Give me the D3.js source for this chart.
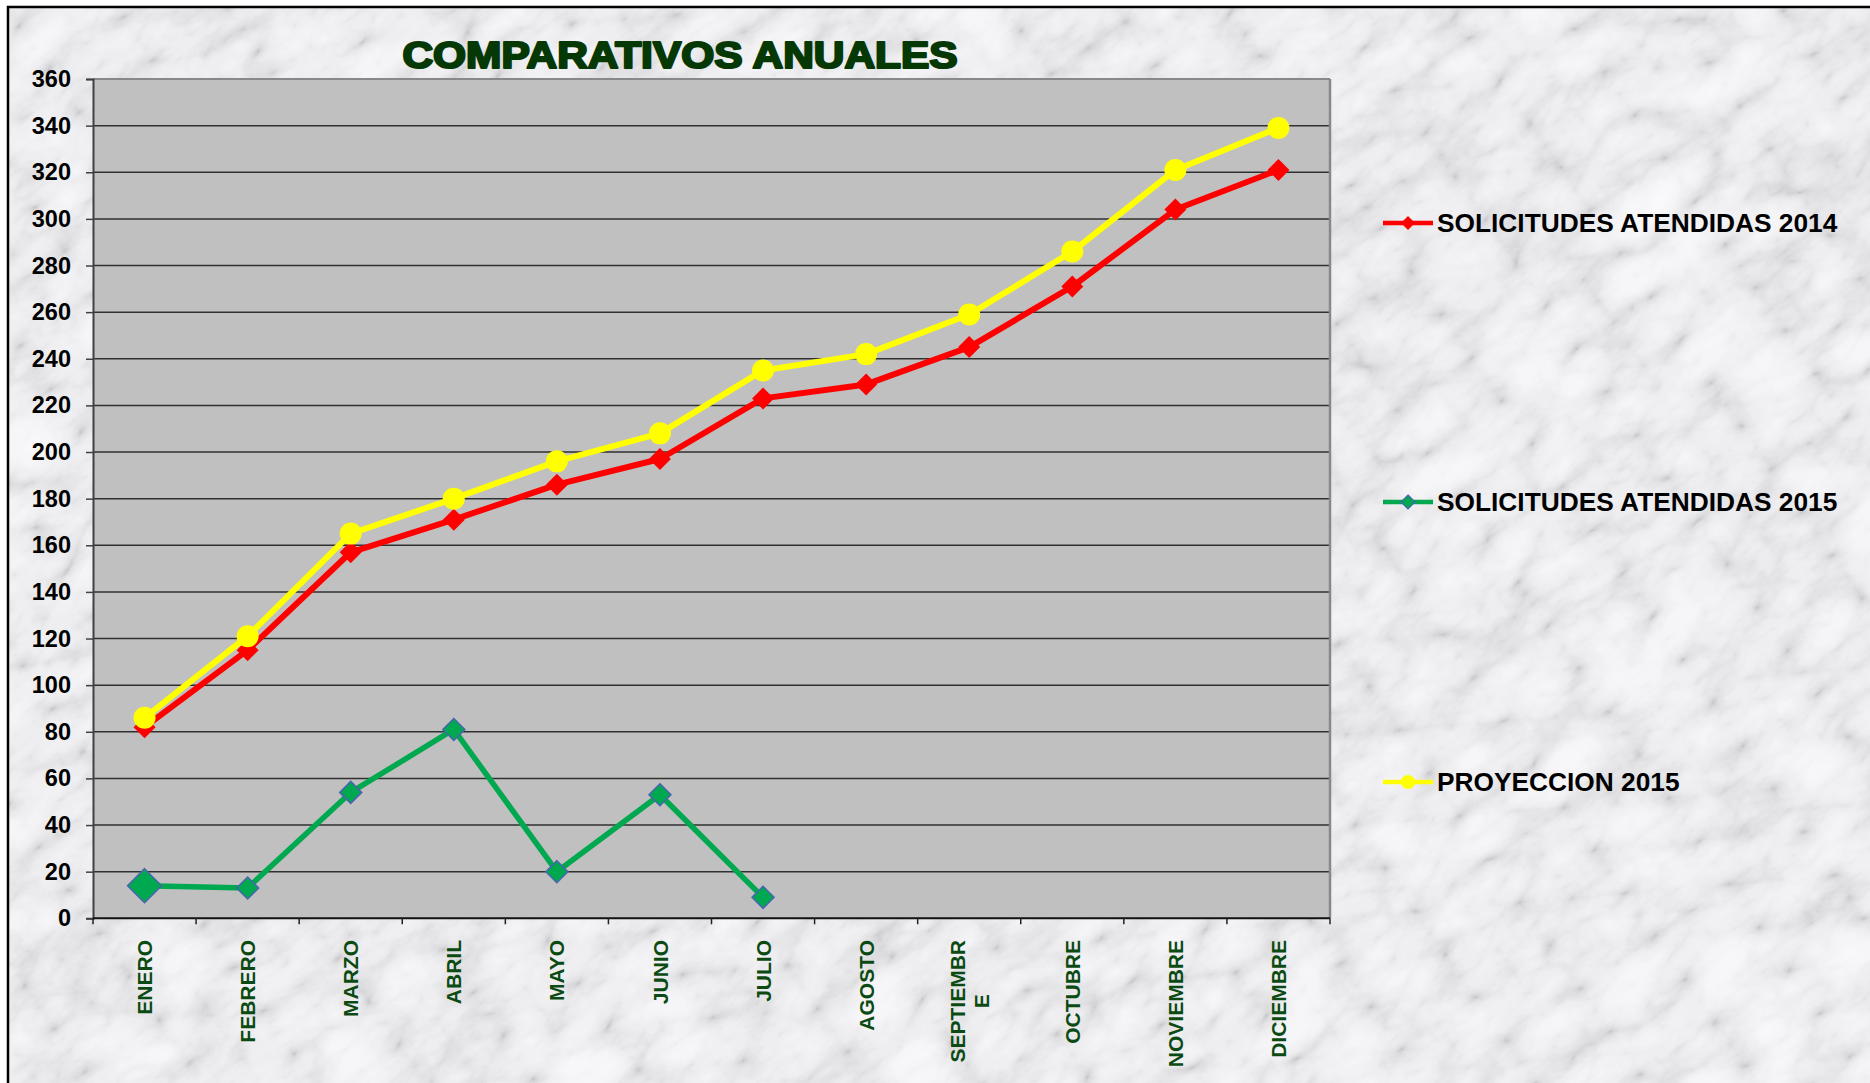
<!DOCTYPE html>
<html>
<head>
<meta charset="utf-8">
<script src="https://cdn.jsdelivr.net/npm/d3@7"></script>
<style>
html,body{margin:0;padding:0;background:#fff;overflow:hidden;}
svg{display:block;}
</style>
</head>
<body>
<svg id="chart" width="1870" height="1083"></svg>
<script>
// ---- data ----
const months = ["ENERO","FEBRERO","MARZO","ABRIL","MAYO","JUNIO","JULIO","AGOSTO","SEPTIEMBRE","OCTUBRE","NOVIEMBRE","DICIEMBRE"];
const monthLabels = [["ENERO"],["FEBRERO"],["MARZO"],["ABRIL"],["MAYO"],["JUNIO"],["JULIO"],["AGOSTO"],["SEPTIEMBR","E"],["OCTUBRE"],["NOVIEMBRE"],["DICIEMBRE"]];
const solicitudes2014 = [82,115,157,171,186,197,223,229,245,271,304,321];
const solicitudes2015 = [14,13,54,81,20,53,9];
const proyeccion2015 = [86,121,165,180,196,208,235,242,259,286,321,339];
const yTicks = [0,20,40,60,80,100,120,140,160,180,200,220,240,260,280,300,320,340,360];
const seriesNames = ["SOLICITUDES ATENDIDAS 2014","SOLICITUDES ATENDIDAS 2015","PROYECCION 2015"];
const titleText = "COMPARATIVOS ANUALES";

// ---- layout ----
const W = 1870, H = 1083;
const plot = {left: 93, right: 1330, top: 79, bottom: 918.3};
const svg = d3.select("#chart");
const defs = svg.append("defs");

// marble background texture
const f = defs.append("filter").attr("id","marble").attr("x",0).attr("y",0).attr("width","100%").attr("height","100%");
f.append("feTurbulence").attr("type","turbulence").attr("baseFrequency","0.011 0.019").attr("numOctaves",5).attr("seed",11).attr("result","t");
f.append("feColorMatrix").attr("in","t").attr("type","matrix")
 .attr("values","0.4 0.35 0.25 0 0  0.4 0.35 0.25 0 0  0.4 0.35 0.25 0 0  0 0 0 0 1").attr("result","g");
const ct = f.append("feComponentTransfer").attr("in","g");
ct.append("feFuncR").attr("type","table").attr("tableValues","0.55 0.74 0.85 0.91 0.94 0.96 0.97");
ct.append("feFuncG").attr("type","table").attr("tableValues","0.55 0.74 0.85 0.91 0.94 0.96 0.97");
ct.append("feFuncB").attr("type","table").attr("tableValues","0.58 0.76 0.87 0.93 0.96 0.98 0.99");

svg.append("rect").attr("x",0).attr("y",0).attr("width",W).attr("height",H).attr("fill","#fff");
const clip = defs.append("clipPath").attr("id","bgclip");
clip.append("rect").attr("x",8).attr("y",7).attr("width",W).attr("height",H);
svg.append("g").attr("clip-path","url(#bgclip)")
  .append("g").attr("transform",`translate(${W/2},${H/2}) rotate(-35)`)
  .append("rect").attr("x",-1300).attr("y",-1300).attr("width",2600).attr("height",2600)
  .attr("fill","#eee").attr("filter","url(#marble)");
svg.append("rect").attr("x",8).attr("y",7).attr("width",W+10).attr("height",H+10)
  .attr("fill","none").attr("stroke","#000").attr("stroke-width",2.5);

// scales
const x = d3.scaleBand().domain(months).range([plot.left, plot.right]);
const cx = m => x(m) + x.bandwidth()/2;
const y = d3.scaleLinear().domain([0,360]).range([plot.bottom, plot.top]);

// plot area
svg.append("rect").attr("x",plot.left).attr("y",plot.top)
  .attr("width",plot.right-plot.left).attr("height",plot.bottom-plot.top).attr("fill","#c0c0c0");

// gridlines
svg.append("g").selectAll("line").data(yTicks.filter(t=>t>0 && t<360)).join("line")
  .attr("x1",plot.left).attr("x2",plot.right).attr("y1",d=>y(d)).attr("y2",d=>y(d))
  .attr("stroke","#303030").attr("stroke-width",1.5);

// borders top/right
svg.append("line").attr("x1",plot.left).attr("x2",plot.right).attr("y1",plot.top).attr("y2",plot.top)
  .attr("stroke","#888").attr("stroke-width",2);
svg.append("line").attr("x1",plot.right).attr("x2",plot.right).attr("y1",plot.top).attr("y2",plot.bottom)
  .attr("stroke","#888").attr("stroke-width",2.5);

// y axis
const yAxis = d3.axisLeft(y).tickValues(yTicks).tickSize(7).tickPadding(15).tickFormat(d3.format("d"));
const gy = svg.append("g").attr("transform",`translate(${plot.left},0)`).call(yAxis);
gy.select(".domain").attr("stroke","#404040").attr("stroke-width",2);
gy.selectAll(".tick line").attr("stroke","#404040").attr("stroke-width",1.5);
gy.selectAll(".tick text").attr("font-family","'Liberation Sans', Arial, sans-serif")
  .attr("font-weight","bold").attr("font-size",23.5).attr("fill","#000");

// x axis line + ticks at band boundaries
const xb = svg.append("g");
xb.append("line").attr("x1",plot.left).attr("x2",plot.right).attr("y1",plot.bottom).attr("y2",plot.bottom)
  .attr("stroke","#111").attr("stroke-width",2);
const bounds = months.map(m=>x(m)).concat([plot.right]);
xb.selectAll("line.tk").data(bounds).join("line").attr("class","tk")
  .attr("x1",d=>d).attr("x2",d=>d).attr("y1",plot.bottom).attr("y2",plot.bottom+6)
  .attr("stroke","#222").attr("stroke-width",1.5);

// x labels (rotated)
const labelTop = 940;
months.forEach((m,i)=>{
  const lines = monthLabels[i];
  const g = svg.append("g");
  const texts = lines.map((ln,j)=>g.append("text").text(ln)
      .attr("font-family","'Liberation Sans', Arial, sans-serif").attr("font-weight","bold")
      .attr("font-size",21).attr("fill","#0b4a12").attr("text-anchor","middle"));
  const maxLen = d3.max(texts, t=>t.node().getComputedTextLength());
  const n = lines.length, lh = 24;
  texts.forEach((t,j)=>{
    const off = (j - (n-1)/2)*lh;
    const px = cx(m) + off, py = labelTop + maxLen/2;
    t.attr("transform",`translate(${px},${py}) rotate(-90)`).attr("dy","0.36em");
  });
});

// lines
const colors = ["#ff0000","#00a84f","#ffff00"];
const line = d3.line().x((d,i)=>cx(months[i])).y(d=>y(d));
const diamond = (s)=>`M0,${-s}L${s},0L0,${s}L${-s},0Z`;

// 2014
svg.append("path").attr("d",line(solicitudes2014)).attr("fill","none").attr("stroke",colors[0]).attr("stroke-width",6).attr("stroke-linejoin","round");
svg.append("g").selectAll("path").data(solicitudes2014).join("path")
  .attr("d",diamond(11)).attr("transform",(d,i)=>`translate(${cx(months[i])},${y(d)})`).attr("fill",colors[0]);

// 2015
svg.append("path").attr("d",line(solicitudes2015)).attr("fill","none").attr("stroke",colors[1]).attr("stroke-width",5.5).attr("stroke-linejoin","round");
svg.append("g").selectAll("path").data(solicitudes2015).join("path")
  .attr("d",(d,i)=>diamond(i===0?17:11)).attr("transform",(d,i)=>`translate(${cx(months[i])},${y(d)})`)
  .attr("fill",colors[1]).attr("stroke","#4a64b0").attr("stroke-width",1.5);

// proyeccion
svg.append("path").attr("d",line(proyeccion2015)).attr("fill","none").attr("stroke",colors[2]).attr("stroke-width",6).attr("stroke-linejoin","round");
svg.append("g").selectAll("circle").data(proyeccion2015).join("circle")
  .attr("cx",(d,i)=>cx(months[i])).attr("cy",d=>y(d)).attr("r",11).attr("fill",colors[2]);

// title
svg.append("text").text(titleText).attr("x",680).attr("y",68).attr("text-anchor","middle")
  .attr("font-family","'Liberation Sans',Arial,sans-serif").attr("font-weight","bold")
  .attr("font-size",36).attr("textLength",555).attr("lengthAdjust","spacingAndGlyphs")
  .attr("fill","#053805").attr("stroke","#053805").attr("stroke-width",2.2).attr("stroke-linejoin","round");

// legend
const legY = [223, 502, 782];
seriesNames.forEach((name,i)=>{
  const g = svg.append("g").attr("transform",`translate(0,${legY[i]})`);
  g.append("line").attr("x1",1383).attr("x2",1433).attr("y1",0).attr("y2",0).attr("stroke",colors[i]).attr("stroke-width",4.5);
  if(i===2) g.append("circle").attr("cx",1408).attr("cy",0).attr("r",7).attr("fill",colors[i]);
  else g.append("path").attr("d",diamond(7)).attr("transform","translate(1408,0)").attr("fill",colors[i])
        .attr("stroke",i===1?"#4a64b0":"none").attr("stroke-width",1.2);
  g.append("text").text(name).attr("x",1437).attr("y",0).attr("dy","0.36em")
    .attr("font-family","'Liberation Sans', Arial, sans-serif").attr("font-weight","bold").attr("font-size",26.3).attr("fill","#000");
});
</script>
</body>
</html>
